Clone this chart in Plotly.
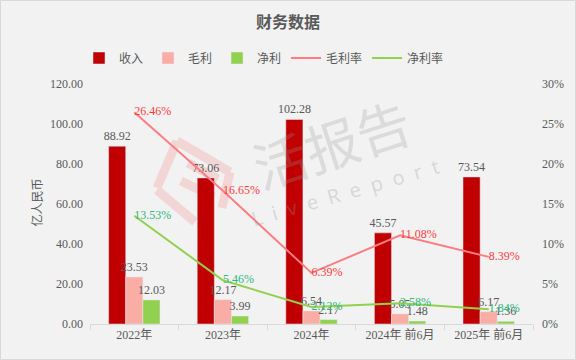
import plotly.graph_objects as go

categories = ["2022年", "2023年", "2024年", "2024年 前6月", "2025年 前6月"]
revenue = [88.92, 73.06, 102.28, 45.57, 73.54]
gross_profit = [23.53, 12.17, 6.54, 5.05, 6.17]
net_profit = [12.03, 3.99, 2.17, 1.48, 1.36]
gross_margin = [26.46, 16.65, 6.39, 11.08, 8.39]
net_margin = [13.53, 5.46, 2.12, 2.58, 1.84]

FONT = "Liberation Serif, Noto Sans CJK SC, serif"
GRAY = "#595959"

L, R, T, B = 90, 43, 84, 36
W, H = 576, 360
pw, ph = W - L - R, H - T - B


def px(x):
    return (x - L) / pw


def py(y):
    return (H - B - y) / ph


fig = go.Figure()
for name, vals, col in [("收入", revenue, "#C00000"), ("毛利", gross_profit, "#FAADA5"),
                        ("净利", net_profit, "#92D050")]:
    fig.add_trace(go.Bar(name=name, x=categories, y=vals, marker_color=col,
                         text=[f"{v:.2f}" for v in vals], textposition="outside",
                         constraintext="none",
                         textfont=dict(color=GRAY, size=12, family=FONT), cliponaxis=False))
fig.add_trace(go.Scatter(name="毛利率", x=categories, y=[v / 100 for v in gross_margin],
                         mode="lines+text", yaxis="y2", line=dict(color="#FF7C80", width=2),
                         text=[f"{v:.2f}%" for v in gross_margin], textposition="middle right",
                         textfont=dict(color="#FF3B3B", size=12, family=FONT), cliponaxis=False))
fig.add_trace(go.Scatter(name="净利率", x=categories, y=[v / 100 for v in net_margin],
                         mode="lines+text", yaxis="y2", line=dict(color="#92D050", width=2),
                         text=[f"{v:.2f}%" for v in net_margin], textposition="middle right",
                         textfont=dict(color="#2DB87D", size=12, family=FONT), cliponaxis=False))

fig.update_layout(
    width=W, height=H,
    margin=dict(l=L, r=R, t=T, b=B, autoexpand=False),
    paper_bgcolor="#F2F2F2", plot_bgcolor="rgba(0,0,0,0)",
    font=dict(family=FONT, color=GRAY, size=12),
    title=dict(text="<b>财务数据</b>", x=0.5, xanchor="center", y=1 - 22 / H, yanchor="middle",
               font=dict(size=16, color=GRAY, family=FONT), automargin=False),
    barmode="group", bargap=0.42, bargroupgap=0,
    showlegend=True,
    legend=dict(orientation="h", x=px(264), xanchor="center", y=py(58), yanchor="middle",
                font=dict(size=12, color=GRAY, family=FONT), bgcolor="rgba(0,0,0,0)",
                traceorder="normal"),
    xaxis=dict(showgrid=False, showline=True, linecolor="#D9D9D9", ticks="outside",
               tickson="boundaries", ticklen=5, tickcolor="#D9D9D9", automargin=False,
               tickfont=dict(size=12, color=GRAY, family=FONT), zeroline=False),
    yaxis=dict(range=[0, 120], dtick=20, tickformat=".2f", showgrid=False, zeroline=False,
               showline=False, automargin=False, ticklabelstandoff=6,
               tickfont=dict(size=12, color=GRAY, family=FONT)),
    yaxis2=dict(range=[0, 0.30], dtick=0.05, tickformat=".0%", overlaying="y", side="right",
                showgrid=False, zeroline=False, showline=False, automargin=False,
                ticklabelstandoff=8,
                tickfont=dict(size=12, color=GRAY, family=FONT)),
)

# y-axis title
fig.add_annotation(text="亿人民币", xref="paper", yref="paper", x=px(27), y=py(203),
                   showarrow=False, textangle=-90, font=dict(size=12, color=GRAY, family=FONT))

# watermark logo (faint pink strokes, behind bars)
logo_strokes = [((177, 141), (157, 188)), ((177, 141), (230, 172)), ((188, 163), (218, 179)),
                ((181, 181), (214, 197)), ((157, 190), (195, 222)), ((230, 172), (222, 208))]
for (xa, ya), (xb, yb) in logo_strokes:
    fig.add_shape(type="line", xref="paper", yref="paper", x0=px(xa), y0=py(ya), x1=px(xb), y1=py(yb),
                  line=dict(color="#F2D6D6", width=9), layer="below")

# watermark text
fig.add_annotation(text="活报告", xref="paper", yref="paper", x=px(331), y=py(142),
                   xanchor="center", yanchor="middle",
                   showarrow=False, textangle=-18, font=dict(size=54, color="rgba(150,150,150,0.25)",
                                                              family="Noto Sans CJK SC"))
fig.add_annotation(text="L  i  v  e  R  e  p  o  r  t", xref="paper", yref="paper", x=px(345),
                   y=py(192), xanchor="center", yanchor="middle", showarrow=False, textangle=-16,
                   font=dict(size=20, color="rgba(150,150,150,0.3)", family="Noto Sans"))

# border
fig.add_shape(type="rect", xref="paper", yref="paper",
              x0=px(0.5), x1=px(W - 0.5), y0=py(H - 0.5), y1=py(0.5),
              line=dict(color="#D9D9D9", width=1), fillcolor="rgba(0,0,0,0)", layer="below")

fig.write_html("out.html", config={"displayModeBar": False},
               post_script="document.body.style.margin='0';document.body.style.padding='0';")
